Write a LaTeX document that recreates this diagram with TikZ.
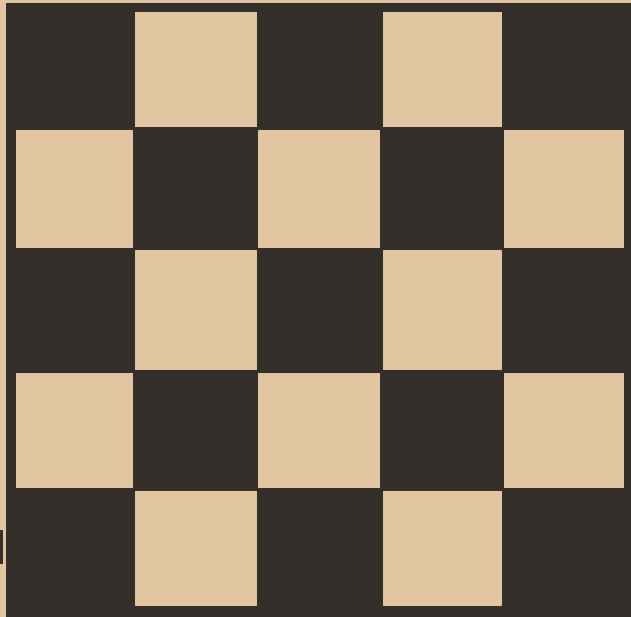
\documentclass[tikz,border=0pt]{standalone}
\definecolor{paperTan}{RGB}{224,197,160}
\definecolor{inkDark}{RGB}{52,47,42}
\begin{document}
\begin{tikzpicture}[
  x=1pt, y=-1pt,
  paper/.style={fill=paperTan},
  ink/.style={fill=inkDark},
  lightsq/.style={fill=paperTan}
]
% sheet and board
\fill[paper] (0,0) rectangle (631,617);
\useasboundingbox (0,0) rectangle (631,617);
\fill[ink] (6,3) rectangle (631,617);
\fill[ink] (0,530) rectangle (3,564);

% light squares
\foreach \i/\xa/\xb in {0/16/133, 1/135/257, 2/258/380, 3/383/502, 4/504/624}
  \foreach \j/\ya/\yb in {0/12/127, 1/130/248, 2/250/370, 3/373/488, 4/491/606} {
    \pgfmathtruncatemacro\odd{mod(\i+\j,2)}
    \ifnum\odd=1
      \fill[lightsq] (\xa,\ya) rectangle (\xb,\yb);
    \fi
  }
\end{tikzpicture}
\end{document}
